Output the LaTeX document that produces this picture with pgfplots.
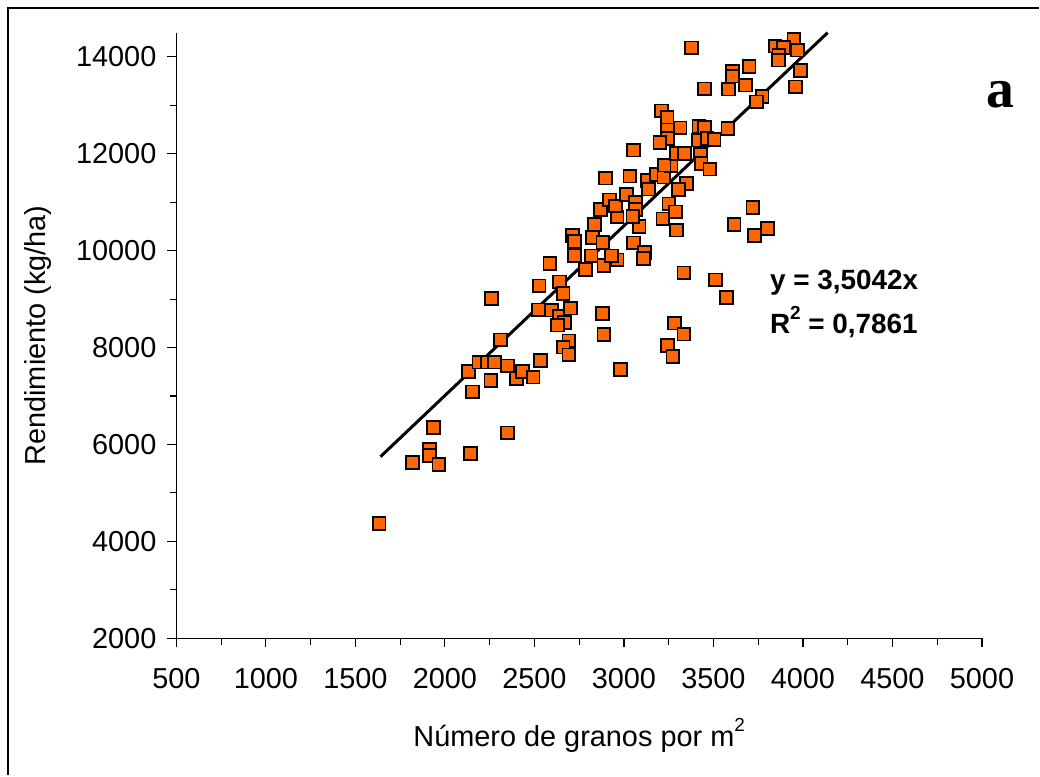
\documentclass[border=0pt]{standalone}
\usepackage{fontspec}
\setmainfont{Liberation Sans}
\newfontfamily\serifbold{Liberation Serif}
\usepackage{pgfplots}
\usepackage{pgfplotstable}
\pgfplotsset{compat=1.18}
\definecolor{mkorange}{HTML}{FF6600}
\newcommand{\supt}[1]{\raisebox{0.5em}{\fontsize{9.5}{10}\selectfont #1}}
\pgfplotstableread{
x y
1633 4365
1820 5629
1915 5891
1915 5767
1967 5588
2143 5819
1935 6355
2349 6237
2154 7083
2257 7314
2131 7509
2190 7701
2239 7699
2278 7701
2310 8159
2351 7623
2401 7361
2433 7509
2493 7390
2535 7736
2260 9010
2586 9730
2526 9272
2639 9355
2660 9116
2523 8778
2597 8771
2641 8641
2669 8516
2630 8462
2701 8813
2693 8138
2660 8008
2693 7850
2880 8701
2888 8272
2982 7544
2712 10309
2723 10186
2723 9891
2785 9617
2817 9891
2888 9693
2962 9808
2825 10272
2883 10165
2837 10540
2931 9891
3054 10159
3114 9959
3110 9843
3085 10495
2962 10695
2868 10850
2920 11046
2954 10922
3015 11159
3065 10994
3067 10850
3050 10701
2898 11499
3033 11540
3054 12077
3130 11448
3138 11272
3180 11571
3223 11520
3264 11763
3225 11767
3294 12004
3339 12004
3428 11994
3431 11794
3480 11685
3349 11382
3306 11266
3251 10967
3288 10802
3218 10654
3293 10423
3211 12885
3241 12757
3314 12534
3241 12495
3244 12318
3201 12227
3419 12565
3451 12545
3581 12520
3418 12283
3465 12318
3504 12293
3378 14186
3699 13802
3608 13705
3606 13602
3451 13338
3585 13334
3678 13417
3772 13184
3739 13072
3949 14355
3844 14221
3890 14194
3969 14138
3866 14025
3864 13932
3988 13720
3958 13380
3720 10887
3615 10545
3801 10462
3728 10307
3335 9540
3512 9396
3574 9039
3283 8503
3335 8276
3244 8041
3274 7815
}\datatable
\begin{document}
\begin{tikzpicture}[x=1bp,y=1bp]
\path (0,0) rectangle (520,388);
\draw[line width=0.8bp] (4,0) -- (4,384) -- (520,384);
\begin{axis}[
  at={(88.25bp,68.65bp)}, anchor=south west,
  scale only axis, width=403.1bp, height=303bp,
  xmin=500, xmax=5000, ymin=2000, ymax=14500,
  clip=false,
  axis x line=bottom, axis y line=left,
  axis line style={-, line width=0.6bp, black},
  xtick={500,1000,...,5000}, ytick={2000,4000,...,14000},
  minor xtick={750,1250,...,4750}, minor ytick={3000,5000,...,13000},
  scaled x ticks=false, scaled y ticks=false,
  tick align=outside,
  major tick length=4.5bp, minor tick length=3.3bp,
  tick style={black, line width=0.6bp},
  ticklabel style={font=\fontsize{14.5}{17}\selectfont},
  xticklabel style={yshift=-7bp},
  yticklabel style={xshift=-2bp},
  /pgf/number format/assume math mode=true,
  /pgf/number format/set thousands separator={},
  xlabel={Número de granos por m\supt{2}},
  ylabel={Rendimiento (kg/ha)},
  label style={font=\fontsize{14.5}{17}\selectfont},
  xlabel style={at={(axis description cs:0.5,-0.178)}, anchor=base},
  ylabel style={at={(axis description cs:-0.172,0.5)}, anchor=center},
]
\addplot[only marks, mark=square*, mark size=3.2bp,
  mark options={fill=mkorange, draw=black, line width=0.9bp}] table[x=x,y=y] {\datatable};
\addplot[black, line width=1.5bp] coordinates {(1640,5747) (4138,14500)};
\node[anchor=base west, inner sep=0, font=\bfseries\fontsize{14}{17}\selectfont] at (axis cs:3814,9190) {y = 3,5042x};
\node[anchor=base west, inner sep=0, font=\bfseries\fontsize{14}{17}\selectfont] at (axis cs:3814,8283) {R\supt{\bfseries 2} = 0,7861};
\end{axis}
\node[anchor=base west, inner sep=0, font=\serifbold\bfseries\fontsize{28}{30}\selectfont] at (493.35,334.15) {a};
\end{tikzpicture}
\end{document}
